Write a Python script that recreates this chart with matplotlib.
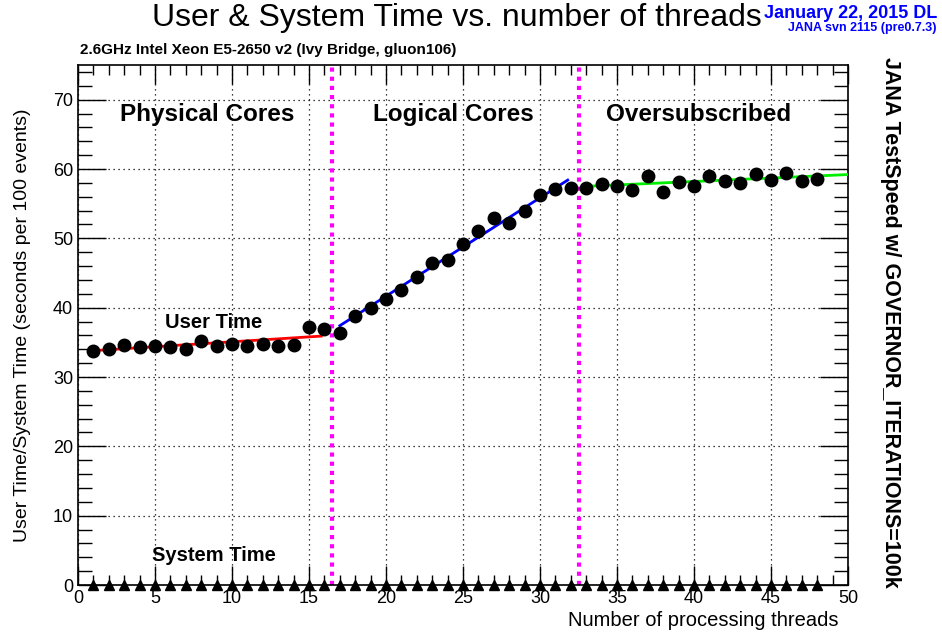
import matplotlib
matplotlib.use("Agg")
import matplotlib.pyplot as plt
from matplotlib.ticker import MultipleLocator
import numpy as np

plt.rcParams['font.family'] = ['Liberation Sans', 'DejaVu Sans']

threads = list(range(1, 49))
user_time = [33.7, 34.1, 34.6, 34.3, 34.5, 34.3, 34.1, 35.2, 34.5, 34.7,
             34.5, 34.7, 34.5, 34.6, 37.2, 36.9, 36.4, 38.8, 39.9, 41.3,
             42.6, 44.4, 46.5, 46.9, 49.2, 51.0, 52.9, 52.2, 54.0, 56.2,
             57.1, 57.3, 57.3, 57.9, 57.6, 56.9, 59.0, 56.7, 58.1, 57.6,
             59.0, 58.3, 58.0, 59.3, 58.4, 59.4, 58.3, 58.5]
system_time = [0.0] * 48

# fit segments: (x_start, x_end, y_start, y_end)
fit_physical = [1.0, 15.8, 33.8, 35.9]
fit_logical = [17.0, 31.8, 37.4, 58.4]
fit_over = [33.0, 50.0, 57.5, 59.2]
boundaries = [16.5, 32.5]

fig = plt.figure(figsize=(9.42, 6.33), dpi=100)
ax = fig.add_axes([78/942, 1-585/633, (848-78)/942, (585-65)/633])

ax.set_xlim(0, 50)
ax.set_ylim(0, 75)

ax.grid(True, which='major', color='black', linestyle=(0, (1, 3)), linewidth=0.9)
ax.set_axisbelow(True)

for xb in boundaries:
    ax.axvline(xb, color='#ff00ff', linestyle=(0, (1, 1.2)), linewidth=3, zorder=2)

ax.plot(fit_physical[:2], fit_physical[2:], color='red', lw=2, zorder=3)
ax.plot(fit_logical[:2], fit_logical[2:], color='blue', lw=2, zorder=3)
ax.plot(fit_over[:2], fit_over[2:], color='#00ee00', lw=2, zorder=3)

ax.plot(threads, user_time, 'o', color='black', ms=9, zorder=4, clip_on=False)
ax.plot(threads, system_time, '^', color='black', ms=7, zorder=4, clip_on=False)

ax.xaxis.set_major_locator(MultipleLocator(5))
ax.xaxis.set_minor_locator(MultipleLocator(1))
ax.yaxis.set_major_locator(MultipleLocator(10))
ax.yaxis.set_minor_locator(MultipleLocator(2))
ax.tick_params(which='both', direction='in', top=True, right=True, labelsize=13)
ax.tick_params(which='major', length=14, width=1)
ax.tick_params(which='minor', length=7, width=1)
ax.tick_params(axis='y', which='major', length=20)
ax.tick_params(axis='y', which='minor', length=10)
for s in ax.spines.values():
    s.set_linewidth(1.2)

fig.text(838/942, 1-620/633, 'Number of processing threads', fontsize=14.5, ha='right', va='center')
ax.set_ylabel('User Time/System Time (seconds per 100 events)', fontsize=14, loc='center', labelpad=16)

ax.text(8.4, 67.8, 'Physical Cores', fontsize=17.5, fontweight='bold', ha='center', va='center')
ax.text(24.4, 67.8, 'Logical Cores', fontsize=17.5, fontweight='bold', ha='center', va='center')
ax.text(40.3, 67.8, 'Oversubscribed', fontsize=17.5, fontweight='bold', ha='center', va='center')
ax.text(8.8, 37.9, 'User Time', fontsize=14.5, fontweight='bold', ha='center', va='center')
ax.text(8.8, 4.3, 'System Time', fontsize=14.5, fontweight='bold', ha='center', va='center')

fig.text(457/942, 1-18/633, 'User & System Time vs. number of threads', fontsize=23,
         ha='center', va='center')
fig.text(937/942, 1-14/633, 'January 22, 2015 DL', fontsize=13, fontweight='bold',
         color='blue', ha='right', va='center')
fig.text(936/942, 1-28/633, 'JANA svn 2115 (pre0.7.3)', fontsize=9, fontweight='bold',
         color='blue', ha='right', va='center')
fig.text(80/942, 1-50/633, '2.6GHz Intel Xeon E5-2650 v2 (Ivy Bridge, gluon106)', fontsize=11,
         fontweight='bold', ha='left', va='center')
fig.text(890/942, 1-322/633, 'JANA TestSpeed w/ GOVERNOR_ITERATIONS=100k', fontsize=15.5,
         fontweight='bold', rotation=-90, ha='center', va='center')

fig.savefig('out.png', dpi=100)
